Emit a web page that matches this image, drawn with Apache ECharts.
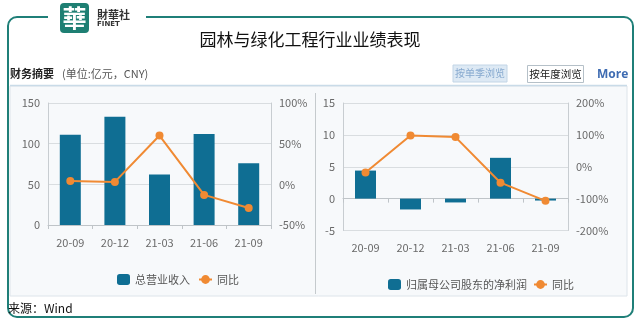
<!DOCTYPE html>
<html><head><meta charset="utf-8">
<script src="https://cdn.jsdelivr.net/npm/echarts@6/dist/echarts.min.js"></script>
<style>html,body{margin:0;padding:0;background:#fff;}#c{width:640px;height:322px;}</style>
</head><body><div id="c"></div>
<script>
var categories = ['20-09','20-12','21-03','21-06','21-09'];
var revenue = [111, 133, 62, 112, 76];
var revenueYoY = [4, 3, 60, -13, -29];
var netProfit = [4.4, -1.7, -0.6, 6.4, -0.3];
var profitYoY = [-18, 98, 93, -50, -107];
var leftTicks = [0, 150, 50];
var leftPctTicks = [-50, 100, 50];
var rightTicks = [-5, 15, 5];
var rightPctTicks = [-200, 200, 100];

var BAR = '#0f6e93', LINE = '#f08a33', F = '"Noto Sans CJK SC","Noto Sans",sans-serif';
var chart = echarts.init(document.getElementById('c'), null, {renderer:'canvas'});
function xAx(gi){return {type:'category',gridIndex:gi,data:categories,
  axisLine:{lineStyle:{color:'#bfc4c8'}},axisTick:{show:true,alignWithLabel:false,length:4,lineStyle:{color:'#bfc4c8'}},
  axisLabel:{color:'#6a6a6a',fontSize:11,fontFamily:F,margin:12}};}
function yAx(gi,t,pct,pos){return {type:'value',gridIndex:gi,position:pos,min:t[0],max:t[1],interval:t[2],
  axisLine:{show:true,lineStyle:{color:'#c8cdd1'}},axisTick:{show:false},
  splitLine:{show:!pct,lineStyle:{color:'#d9dde0'}},
  axisLabel:{color:'#6a6a6a',fontSize:11,fontFamily:F,margin:8,formatter:pct?'{value}%':'{value}'}};}
var option = {
  animation:false,
  grid:[{left:48,top:103,width:223,height:122},{left:343,top:103,width:225,height:127.5}],
  xAxis:[xAx(0),xAx(1)],
  yAxis:[yAx(0,leftTicks,false,'left'),yAx(0,leftPctTicks,true,'right'),yAx(1,rightTicks,false,'left'),yAx(1,rightPctTicks,true,'right')],
  legend:[
    {data:[{name:'总营业收入'},{name:'同比'}],left:112,top:269,itemWidth:13,itemHeight:11,itemGap:8,textStyle:{color:'#555',fontSize:11,fontFamily:F},selectedMode:false},
    {data:[{name:'归属母公司股东的净利润'},{name:'同比 '}],left:383,top:274,itemWidth:13,itemHeight:11,itemGap:6,textStyle:{color:'#555',fontSize:11,fontFamily:F},selectedMode:false}
  ],
  series:[
    {name:'总营业收入',type:'bar',xAxisIndex:0,yAxisIndex:0,data:revenue,barWidth:21,itemStyle:{color:BAR}},
    {name:'同比',type:'line',xAxisIndex:0,yAxisIndex:1,data:revenueYoY,symbol:'circle',symbolSize:8,lineStyle:{color:LINE,width:2},itemStyle:{color:LINE}},
    {name:'归属母公司股东的净利润',type:'bar',xAxisIndex:1,yAxisIndex:2,data:netProfit,barWidth:21,itemStyle:{color:BAR}},
    {name:'同比 ',type:'line',xAxisIndex:1,yAxisIndex:3,data:profitYoY,symbol:'circle',symbolSize:8,lineStyle:{color:LINE,width:2},itemStyle:{color:LINE}}
  ],
  graphic:[
    {type:'rect',z:-10,shape:{x:10,y:86,width:617,height:210},style:{fill:'#f7f9fb',stroke:'#dde4ea',lineWidth:1}},
    {type:'line',z:-5,shape:{x1:10,y1:85.5,x2:627,y2:85.5},style:{stroke:'#c9dbe8',lineWidth:1.5}},
    {type:'line',z:-5,shape:{x1:315.5,y1:93,x2:315.5,y2:294},style:{stroke:'#c5cacd',lineWidth:1}},
    {type:'rect',z:-8,shape:{x:8,y:17,width:625,height:300,r:9},style:{fill:'none',stroke:'#1f7f78',lineWidth:2}},
    {type:'rect',z:-7,shape:{x:48,y:12,width:98,height:10},style:{fill:'#fff'}},
    {type:'rect',shape:{x:60,y:3,width:29,height:30,r:4},style:{fill:'#1e7f73'}},
    {type:'text',style:{x:74.5,y:18,text:'華',fill:'#fff',font:'bold 24px "Noto Sans CJK TC",serif',align:'center',verticalAlign:'middle'}},
    {type:'text',style:{x:97,y:15,text:'財華社',fill:'#333',font:'bold 11px "Noto Sans CJK TC",sans-serif',verticalAlign:'middle'}},
    {type:'text',style:{x:97,y:24,text:'FINET',fill:'#333',font:'bold 7px "DejaVu Sans",sans-serif',verticalAlign:'middle'}},
    {type:'text',style:{x:310,y:40,text:'园林与绿化工程行业业绩表现',fill:'#111',font:'17px '+F,align:'center',verticalAlign:'middle'}},
    {type:'text',style:{x:10,y:74,text:'财务摘要',fill:'#222',font:'bold 11px '+F,verticalAlign:'middle'}},
    {type:'text',style:{x:62,y:74,text:'(单位:亿元，CNY)',fill:'#555',font:'11px '+F,verticalAlign:'middle'}},
    {type:'rect',shape:{x:453,y:65,width:54,height:17},style:{fill:'#dde9f4',stroke:'#c2d5e6',lineWidth:1}},
    {type:'text',style:{x:480,y:73.5,text:'按单季浏览',fill:'#86a9cf',font:'10px '+F,align:'center',verticalAlign:'middle'}},
    {type:'rect',shape:{x:527.5,y:65.5,width:56,height:17},style:{fill:'#fff',stroke:'#b5c0c8',lineWidth:1}},
    {type:'text',style:{x:555.5,y:74,text:'按年度浏览',fill:'#222',font:'10.5px '+F,align:'center',verticalAlign:'middle'}},
    {type:'text',style:{x:597,y:75,text:'More',fill:'#3f6cb2',font:'bold 12px "Open Sans",sans-serif',verticalAlign:'middle'}},
    {type:'text',style:{x:8,y:308,text:'来源：Wind',fill:'#111',font:'12px '+F,verticalAlign:'middle'}}
  ]
};
chart.setOption(option);
</script></body></html>
